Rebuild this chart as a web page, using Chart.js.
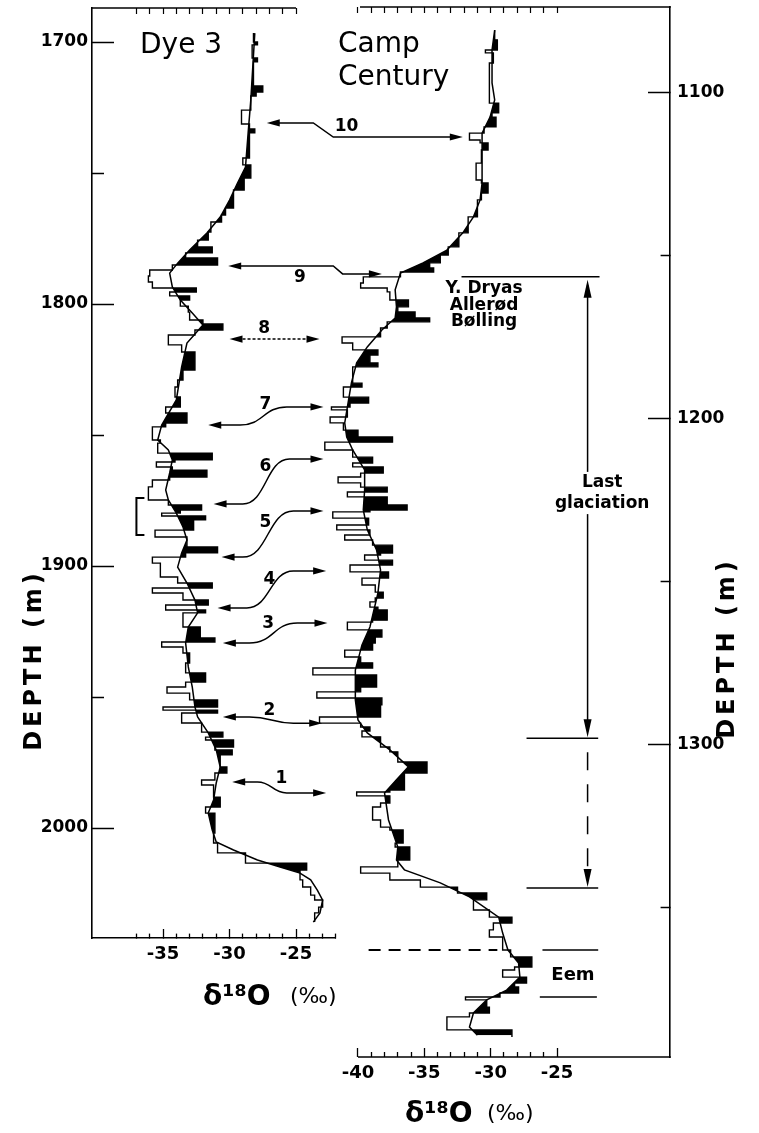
<!DOCTYPE html>
<html><head><meta charset="utf-8">
<script src="https://cdn.jsdelivr.net/npm/chart.js@4.4.1/dist/chart.umd.min.js"></script>
<style>
html,body{margin:0;padding:0;background:#fff;}
#wrap{position:relative;width:759px;height:1133px;overflow:hidden;background:#fff;}
canvas{position:absolute;left:0;top:0;}
</style></head><body>
<div id="wrap"><canvas id="dye" width="759" height="1133"></canvas><canvas id="cc" width="759" height="1133"></canvas></div>
<script>
// ---------- Dye 3 ----------
const dyeStepDepths = [1696.6,1700.0,1701.1,1706.1,1707.6,1716.8,1719.1,1720.6,1726.0,1731.3,
1733.2,1734.7,1744.3,1746.9,1751.9,1756.5,1760.3,1763.4,1766.0,1768.7,
1772.5,1775.6,1778.2,1780.5,1782.4,1785.1,1787.0,1789.3,1791.6,1793.9,
1795.4,1796.9,1798.5,1800.8,1803.1,1806.1,1807.6,1809.9,1811.8,1815.6,
1818.3,1825.2,1829.0,1831.7,1835.5,1839.3,1841.6,1845.4,1846.9,1851.9,
1853.1,1856.9,1859.5,1860.3,1862.2,1863.4,1866.0,1867.2,1869.8,1874.8,
1876.7,1878.6,1879.8,1880.9,1882.4,1886.3,1888.9,1892.7,1895.0,1896.6,
1898.9,1904.2,1906.5,1908.4,1910.3,1913.0,1914.9,1916.8,1917.9,1923.3,
1927.5,1929.0,1930.9,1933.2,1937.0,1940.8,1944.3,1946.2,1948.5,1951.1,
1953.8,1955.0,1956.1,1959.9,1963.4,1965.3,1966.4,1969.1,1970.2,1972.1,
1976.7,1979.0,1981.7,1983.6,1988.2,1992.0,1994.3,2001.9,2005.7,2009.5,
2013.4,2016.0,2019.8,2022.5,2025.6,2027.5,2030.2,2032.4,2035.9];
const dyeStepValues = [-28.2,-27.9,-28.3,-27.9,-28.2,-27.5,-28.0,-28.4,-29.1,-28.5,
-28.1,-28.5,-29.0,-28.4,-28.9,-29.7,-29.7,-30.3,-30.6,-31.4,
-31.6,-32.4,-31.3,-33.3,-30.9,-34.3,-36.0,-36.1,-35.8,-32.5,
-34.5,-33.0,-33.7,-33.1,-33.0,-32.0,-30.5,-32.6,-34.6,-33.6,
-32.6,-33.5,-33.9,-34.1,-33.7,-34.8,-33.2,-34.8,-35.8,-35.2,
-35.4,-31.3,-34.1,-35.5,-34.3,-31.7,-34.5,-35.8,-36.1,-34.6,
-32.1,-33.7,-35.1,-31.8,-32.7,-35.6,-33.2,-30.9,-33.3,-35.8,
-35.2,-33.9,-31.3,-35.8,-33.5,-31.6,-34.8,-31.8,-33.5,-32.2,
-31.1,-35.1,-33.5,-33.0,-33.3,-31.8,-33.3,-34.7,-33.0,-30.9,
-35.0,-30.9,-33.6,-32.1,-30.5,-31.8,-29.7,-31.1,-29.8,-30.7,
-30.2,-31.1,-32.1,-31.2,-30.7,-31.8,-31.1,-31.2,-30.9,-28.8,
-24.2,-24.7,-24.5,-23.9,-23.6,-23.0,-23.3,-23.6];
const dyeSmoothDepths = [1696.6,1722.1,1734.7,1747.7,1753.8,1760.3,1766.8,1772.9,1779.4,1784.4,
1788.2,1793.5,1798.5,1803.4,1808.0,1814.9,1824.0,1836.6,1846.2,1851.9,
1855.7,1859.5,1864.5,1871.0,1874.8,1879.8,1885.1,1890.1,1895.0,1900.4,
1906.5,1913.0,1917.9,1923.3,1929.4,1938.5,1946.2,1953.8,1957.6,1963.7,
1970.2,1976.7,1982.8,1989.3,1994.3,2000.8,2005.3,2008.4,2012.2,2014.9,
2017.2,2019.8,2023.7,2027.5,2032.4,2035.9];
const dyeSmoothValues = [-28.1,-28.4,-28.6,-28.8,-29.4,-30.0,-30.7,-31.7,-33.0,-33.9,
-34.5,-34.3,-33.7,-32.8,-32.0,-33.2,-33.6,-34.0,-35.1,-35.4,
-34.6,-34.3,-34.5,-34.8,-34.6,-34.0,-33.5,-33.2,-33.6,-33.9,
-33.2,-32.6,-32.4,-33.1,-33.3,-33.1,-32.8,-32.6,-32.4,-31.6,
-31.0,-30.7,-31.0,-31.2,-31.6,-31.3,-31.0,-29.7,-27.9,-26.2,
-24.7,-23.9,-23.4,-23.0,-23.2,-23.7];
const dyeXTickLabels = [-35, -30, -25];
const dyeDepthTickLabels = [1700, 1800, 1900, 2000];
const dyeDepthMinorTicks = [1750, 1850, 1950];

// ---------- Camp Century ----------
const ccStepDepths = [1080.7,1083.7,1086.8,1087.7,1090.8,1100.0,1103.1,1106.1,1107.4,1110.4,
1112.3,1114.4,1115.3,1117.5,1121.5,1126.7,1127.6,1130.7,1132.8,1138.0,
1142.9,1147.2,1149.7,1152.1,1153.7,1154.9,1156.4,1158.3,1159.8,1161.0,
1163.5,1165.6,1167.2,1169.0,1170.2,1172.1,1174.8,1176.7,1178.8,1180.4,
1182.8,1184.0,1189.0,1190.2,1193.3,1195.1,1196.3,1197.2,1199.4,1201.2,
1203.4,1205.5,1207.1,1209.5,1211.7,1213.5,1214.7,1216.6,1217.8,1219.6,
1220.9,1222.4,1223.9,1226.4,1227.9,1228.5,1230.4,1232.5,1234.0,1235.6,
1237.1,1238.7,1241.1,1241.7,1243.3,1244.8,1246.9,1248.8,1250.9,1253.1,
1254.9,1256.1,1257.7,1258.6,1261.7,1262.3,1264.7,1266.9,1268.7,1270.9,
1273.0,1274.8,1276.4,1278.5,1282.2,1283.7,1285.6,1287.7,1291.4,1293.3,
1294.5,1295.7,1297.5,1300.6,1302.1,1305.2,1308.6,1309.8,1313.8,1314.4,
1315.6,1317.8,1319.0,1323.0,1325.2,1326.1,1330.1,1331.3,1335.3,1337.4,
1339.3,1341.4,1343.6,1345.4,1347.5,1350.6,1352.8,1354.6,1356.7,1358.9,
1362.9,1365.0,1368.1,1369.0,1371.2,1373.0,1374.2,1376.1,1377.3,1378.2,
1380.4,1382.2,1383.4,1387.4,1389.6];
const ccStepValues = [-29.7,-29.5,-30.4,-29.8,-30.1,-30.1,-29.4,-29.9,-29.6,-30.5,
-31.6,-30.8,-30.2,-30.7,-31.1,-30.7,-30.2,-30.7,-31.0,-31.7,
-32.4,-33.2,-33.8,-34.6,-34.3,-36.8,-39.6,-39.8,-37.8,-37.6,
-36.2,-37.0,-35.7,-34.6,-37.8,-38.3,-41.2,-40.4,-38.5,-39.1,
-38.5,-40.4,-39.7,-41.1,-39.2,-40.6,-42.0,-40.8,-42.1,-41.1,
-40.0,-37.4,-42.5,-40.4,-38.9,-40.4,-38.1,-39.8,-41.5,-39.8,
-37.8,-40.8,-37.8,-36.3,-39.1,-41.9,-39.2,-41.6,-39.1,-41.0,
-38.9,-37.4,-38.3,-39.5,-37.4,-40.6,-37.7,-39.7,-38.7,-38.1,
-38.7,-39.1,-38.5,-37.8,-38.9,-40.8,-38.2,-38.7,-38.9,-41.0,
-39.8,-38.9,-43.4,-38.6,-39.8,-43.1,-38.2,-38.3,-42.9,-39.8,
-39.1,-39.7,-38.3,-37.6,-37.0,-34.8,-36.5,-36.5,-37.6,-40.1,
-37.6,-38.3,-38.9,-38.3,-37.6,-36.6,-37.2,-36.1,-37.0,-39.8,
-37.6,-35.3,-32.5,-30.3,-31.3,-30.1,-28.4,-29.8,-30.1,-29.1,
-28.5,-26.9,-28.2,-29.1,-27.3,-28.2,-27.9,-29.3,-31.9,-30.3,
-30.1,-31.6,-33.3,-28.4];
const ccSmoothDepths = [1080.7,1086.8,1096.9,1102.1,1107.4,1112.3,1127.6,1132.8,1138.0,1142.9,
1148.2,1152.1,1155.2,1160.4,1165.6,1169.0,1172.7,1177.9,1182.8,1189.0,
1195.1,1201.2,1205.5,1209.5,1215.6,1221.8,1227.9,1234.0,1240.2,1246.3,
1253.4,1263.8,1269.3,1277.0,1286.2,1292.3,1296.3,1301.5,1306.7,1310.7,
1314.7,1323.0,1331.3,1335.3,1338.3,1342.3,1346.6,1352.8,1357.7,1362.9,
1366.9,1371.2,1375.2,1378.2,1382.2,1386.5,1389.0];
const ccSmoothValues = [-29.7,-29.9,-29.9,-29.7,-30.05,-30.65,-30.65,-30.8,-31.3,-32.1,
-33.3,-35.1,-36.8,-37.2,-37.1,-37.2,-38.2,-39.3,-40.1,-40.5,
-40.75,-41.0,-40.85,-40.4,-39.5,-39.5,-39.6,-39.3,-38.6,-38.3,
-38.5,-39.1,-39.7,-40.2,-40.2,-40.0,-39.3,-37.6,-36.2,-37.1,
-38.0,-37.7,-37.0,-37.1,-36.5,-33.8,-31.6,-29.4,-29.1,-28.7,
-27.9,-27.8,-28.8,-30.3,-31.3,-31.6,-31.0];
const ccXTickLabels = [-40, -35, -30, -25];
const ccDepthTickLabels = [1100, 1200, 1300];
const ccDepthMinorTicks = [1150, 1250, 1350];

// ---------- correlation arrows (numbered tie points) ----------
const arrowLabels     = ['10','9','8','7','6','5','4','3','2','1'];
const arrowDyeDepths  = [1730.9,1785.5,1813.4,1846.2,1876.3,1896.6,1916.0,1929.4,1957.6,1982.4];
const arrowCcDepths   = [1113.5,1155.5,1175.5,1196.3,1212.3,1228.2,1246.6,1262.6,1293.3,1314.7];

// ---------- helpers ----------
function stepPoints(edges, vals){
  const p=[]; for(let i=0;i<vals.length;i++){p.push({x:vals[i],y:edges[i]});p.push({x:vals[i],y:edges[i+1]});} return p;
}
function curvePoints(d,v){return d.map((y,i)=>({x:v[i],y}));}
function smoothAt(d,v,t){
  if(t<=d[0])return v[0]; if(t>=d[d.length-1])return v[v.length-1];
  for(let i=1;i<d.length;i++){if(t<=d[i]){const f=(t-d[i-1])/(d[i]-d[i-1]);return v[i-1]+f*(v[i]-v[i-1]);}}
}
function envelopePoints(edges,vals,sd,sv){
  const p=[];
  for(let i=0;i<vals.length;i++){
    const a=edges[i],b=edges[i+1],v=vals[i];
    const ts=[a]; sd.forEach(k=>{if(k>a&&k<b)ts.push(k);}); ts.push(b);
    const all=[ts[0]];
    for(let j=1;j<ts.length;j++){
      const s0=smoothAt(sd,sv,ts[j-1]),s1=smoothAt(sd,sv,ts[j]);
      if((v-s0)*(v-s1)<0) all.push(ts[j-1]+(v-s0)/(s1-s0)*(ts[j]-ts[j-1]));
      all.push(ts[j]);
    }
    all.forEach(t=>p.push({x:Math.max(v,smoothAt(sd,sv,t)),y:t}));
  }
  return p;
}
function intRange(a,b){const r=[];for(let v=a;v<=b;v++)r.push(v);return r;}
function noPad(s){s.paddingTop=0;s.paddingBottom=0;s.paddingLeft=0;s.paddingRight=0;}

Chart.defaults.font.family = "'DejaVu Sans', sans-serif";
Chart.defaults.color = '#000';

function profileDatasets(sd,sv,ed,ev){
  return [
    {data:curvePoints(sd,sv),borderColor:'#000',borderWidth:1.5,pointRadius:0,tension:0,fill:false,clip:false},
    {data:envelopePoints(ed,ev,sd,sv),borderColor:'rgba(0,0,0,0)',borderWidth:0,backgroundColor:'#000',pointRadius:0,tension:0,fill:0,clip:false},
    {data:stepPoints(ed,ev),borderColor:'#000',borderWidth:1.4,pointRadius:0,tension:0,fill:false,clip:false}
  ];
}

function hLine(ctx,x1,x2,y,w,dash){ctx.save();ctx.strokeStyle='#000';ctx.lineWidth=w||1.5;ctx.setLineDash(dash||[]);ctx.beginPath();ctx.moveTo(x1,y);ctx.lineTo(x2,y);ctx.stroke();ctx.restore();}
function vLine(ctx,x,y1,y2,w,dash){ctx.save();ctx.strokeStyle='#000';ctx.lineWidth=w||1.5;ctx.setLineDash(dash||[]);ctx.beginPath();ctx.moveTo(x,y1);ctx.lineTo(x,y2);ctx.stroke();ctx.restore();}
function head(ctx,tx,ty,dx,dy,len,half){
  len=len||13;half=half||3.6;
  const bx=tx-dx*len,by=ty-dy*len;
  ctx.save();ctx.fillStyle='#000';ctx.beginPath();ctx.moveTo(tx,ty);
  ctx.lineTo(bx-dy*half,by+dx*half);ctx.lineTo(bx+dy*half,by-dx*half);ctx.closePath();ctx.fill();ctx.restore();
}
function text(ctx,s,x,y,font,align,base){ctx.save();ctx.fillStyle='#000';ctx.font=font;ctx.textAlign=align||'left';ctx.textBaseline=base||'alphabetic';ctx.fillText(s,x,y);ctx.restore();}
function vText(ctx,s,x,y,font,spacing){ctx.save();ctx.translate(x,y);ctx.rotate(-Math.PI/2);ctx.fillStyle='#000';ctx.font=font;try{ctx.letterSpacing=spacing||'0px';}catch(e){}ctx.textAlign='center';ctx.textBaseline='middle';ctx.fillText(s,0,0);ctx.restore();}
function deltaTitle(ctx,x,base,parenX){
  text(ctx,'δ\u00B9\u2078O',x,base,'bold 28px "DejaVu Sans"');
  text(ctx,'(‰)',parenX,base-2,'22px "DejaVu Sans"');
}

// ---------- Dye 3 chart ----------
const dyePlugin = {
  id:'dyeDecor',
  afterDraw(chart){
    const ctx=chart.ctx, xs=chart.scales.x, ys=chart.scales.y, a=chart.chartArea;
    hLine(ctx,a.left-0.8,xs.getPixelForValue(-25),a.top,1.6);
    text(ctx,'Dye 3',a.left+48,53,'28px "DejaVu Sans"');
    const bx=xs.getPixelForValue(-37.0), bx2=xs.getPixelForValue(-36.4);
    const by1=ys.getPixelForValue(1874.0), by2=ys.getPixelForValue(1888.2);
    ctx.save();ctx.strokeStyle='#000';ctx.lineWidth=2;ctx.beginPath();
    ctx.moveTo(bx2,by1);ctx.lineTo(bx,by1);ctx.lineTo(bx,by2);ctx.lineTo(bx2,by2);ctx.stroke();ctx.restore();
    vText(ctx,'DEPTH (m)',35,660,'bold 24px "DejaVu Sans"','4px');
    deltaTitle(ctx,203,1005,290);
  }
};
const dyeChart = new Chart(document.getElementById('dye'),{
  type:'line',
  data:{datasets:profileDatasets(dyeSmoothDepths,dyeSmoothValues,dyeStepDepths,dyeStepValues)},
  options:{
    responsive:false,animation:false,devicePixelRatio:1,indexAxis:'y',events:[],
    layout:{padding:{left:0,right:424,top:0,bottom:155}},
    plugins:{legend:{display:false},tooltip:{enabled:false}},
    scales:{
      x:{type:'linear',position:'bottom',min:-40.34,max:-22.07,
        afterBuildTicks:s=>{s.ticks=intRange(-37,-22).map(v=>({value:v}));},
        afterFit:s=>{s.height=40;noPad(s);},
        ticks:{autoSkip:false,maxRotation:0,padding:15,font:{size:18,weight:'bold'},
          callback:v=>dyeXTickLabels.includes(v)?String(v):''},
        grid:{drawOnChartArea:false,tickLength:-9,tickColor:'#000',tickWidth:1.3,
          tickBorderDash:c=>dyeXTickLabels.includes(c.tick&&c.tick.value)?[]:[5,100]},
        border:{color:'#000',width:1.6}},
      xTop:{type:'linear',position:'top',min:-40.34,max:-22.07,
        afterBuildTicks:s=>{s.ticks=intRange(-37,-25).map(v=>({value:v}));},
        afterFit:s=>{s.height=8;noPad(s);},
        ticks:{display:false},
        grid:{drawOnChartArea:false,tickLength:-6,tickColor:'#000',tickWidth:1.2},
        border:{display:false}},
      y:{type:'linear',position:'left',reverse:true,min:1687.02,max:2041.98,
        afterBuildTicks:s=>{s.ticks=dyeDepthTickLabels.concat(dyeDepthMinorTicks).sort((p,q)=>p-q).map(v=>({value:v}));},
        afterFit:s=>{s.width=92;noPad(s);},
        ticks:{autoSkip:false,padding:26,font:{size:17,weight:'bold'},
          callback:v=>dyeDepthTickLabels.includes(v)?String(v):''},
        grid:{drawOnChartArea:false,tickLength:-22,tickColor:'#000',tickWidth:1.5,
          tickBorderDash:c=>dyeDepthTickLabels.includes(c.tick&&c.tick.value)?[]:[0,10,100]},
        border:{color:'#000',width:1.6}}
    }
  },
  plugins:[dyePlugin]
});

// ---------- Camp Century chart ----------
const ccPlugin = {
  id:'ccDecor',
  afterDraw(chart){
    const ctx=chart.ctx, xs=chart.scales.x, ys=chart.scales.y, a=chart.chartArea;
    const dx=dyeChart.scales.x, dy=dyeChart.scales.y;
    hLine(ctx,xs.getPixelForValue(-40)+2,a.right+0.8,a.top,1.6);
    hLine(ctx,xs.getPixelForValue(-40),a.right+0.8,a.bottom,1.6);
    text(ctx,'Camp',a.left+38,52,'28px "DejaVu Sans"');
    text(ctx,'Century',a.left+38,85,'28px "DejaVu Sans"');
    const leftEnd=[-27.2,-30.1,-30.0,-31.6,-31.2,-30.6,-30.9,-30.5,-30.5,-29.8];
    const rightEnd=[-32.1,-38.2,-42.9,-42.6,-42.6,-42.6,-42.4,-42.3,-42.7,-42.4];
    const kneeL=[-23.7,-22.2,null,-29.2,-29.0,-29.0,-28.7,-28.5,-28.5,-27.9];
    const kneeR=[-22.2,-21.5,null,-25.7,-25.5,-25.2,-25.2,-24.9,-25.2,-25.7];
    const labX=[-21.2,-24.7,-27.4,-27.3,-27.3,-27.3,-27.0,-27.1,-27.0,-26.1];
    const labD=[1732.4,1790.1,1809.2,1838.5,1862.2,1883.6,1905.0,1922.1,1955.0,1981.3];
    ctx.save();ctx.strokeStyle='#000';ctx.lineWidth=1.5;
    arrowLabels.forEach((lab,i)=>{
      const x1=dx.getPixelForValue(leftEnd[i]), y1=dy.getPixelForValue(arrowDyeDepths[i]);
      const x2=xs.getPixelForValue(rightEnd[i]), y2=ys.getPixelForValue(arrowCcDepths[i]);
      ctx.save();
      if(kneeL[i]===null){
        ctx.setLineDash([3,2]);ctx.beginPath();ctx.moveTo(x1+8,y1);ctx.lineTo(x2-8,y2);ctx.stroke();ctx.setLineDash([]);
        head(ctx,x1,y1,-1,0);head(ctx,x2,y2,1,0);
      } else {
        const k1=dx.getPixelForValue(kneeL[i]),k2=dx.getPixelForValue(kneeR[i]);
        ctx.beginPath();ctx.moveTo(x1+6,y1);ctx.lineTo(k1,y1);
        if(i<2){ctx.lineTo(k2,y2);} else {const m=(k1+k2)/2;ctx.bezierCurveTo(m,y1,m,y2,k2,y2);}
        ctx.lineTo(x2-6,y2);ctx.stroke();
        head(ctx,x1,y1,-1,0);head(ctx,x2,y2,1,0);
      }
      ctx.restore();
      text(ctx,lab,dx.getPixelForValue(labX[i]),dy.getPixelForValue(labD[i]),'bold 17px "DejaVu Sans"','center','middle');
    });
    ctx.restore();
    const yYD=ys.getPixelForValue(1156.4), yLG=ys.getPixelForValue(1297.9), yLG2=ys.getPixelForValue(1343.9);
    const yE1=ys.getPixelForValue(1362.9), yE2=ys.getPixelForValue(1377.3);
    const xa=xs.getPixelForValue(-22.7);
    hLine(ctx,xs.getPixelForValue(-32.2),xs.getPixelForValue(-21.8),yYD,1.5);
    vLine(ctx,xa,yYD+8,yLG-8,1.5);
    head(ctx,xa,yYD+3,0,-1,18,4);head(ctx,xa,yLG-1,0,1,18,4);
    hLine(ctx,xs.getPixelForValue(-27.3),xs.getPixelForValue(-21.9),yLG,1.5);
    vLine(ctx,xa,yLG+14,yLG2-10,1.5,[18,14]);
    head(ctx,xa,yLG2-1,0,1,18,4);
    hLine(ctx,xs.getPixelForValue(-27.3),xs.getPixelForValue(-21.9),yLG2,1.5);
    hLine(ctx,xs.getPixelForValue(-39.2),xs.getPixelForValue(-29.5),yE1,2,[12,8]);
    hLine(ctx,xs.getPixelForValue(-26.1),xs.getPixelForValue(-21.9),yE1,1.5);
    hLine(ctx,xs.getPixelForValue(-26.3),xs.getPixelForValue(-22.0),yE2,1.5);
    text(ctx,'Eem',xs.getPixelForValue(-23.8),ys.getPixelForValue(1370.6),'bold 18px "DejaVu Sans"','center','middle');
    const tx=xs.getPixelForValue(-30.5);
    text(ctx,'Y. Dryas',tx,ys.getPixelForValue(1160.1),'bold 17px "DejaVu Sans"','center','middle');
    text(ctx,'Allerød',tx,ys.getPixelForValue(1165.3),'bold 17px "DejaVu Sans"','center','middle');
    text(ctx,'Bølling',tx,ys.getPixelForValue(1170.2),'bold 17px "DejaVu Sans"','center','middle');
    const gx=xs.getPixelForValue(-21.6), gy1=ys.getPixelForValue(1219.6), gy2=ys.getPixelForValue(1225.8);
    ctx.save();ctx.fillStyle='#fff';ctx.fillRect(gx-50,gy1-11,100,gy2-gy1+22);ctx.restore();
    text(ctx,'Last',gx,gy1,'bold 17px "DejaVu Sans"','center','middle');
    text(ctx,'glaciation',gx,gy2,'bold 17px "DejaVu Sans"','center','middle');
    vText(ctx,'DEPTH (m)',728,648,'bold 24px "DejaVu Sans"','4px');
    deltaTitle(ctx,405,1122,487);
  }
};
const ccChart = new Chart(document.getElementById('cc'),{
  type:'line',
  data:{datasets:profileDatasets(ccSmoothDepths,ccSmoothValues,ccStepDepths,ccStepValues)},
  options:{
    responsive:false,animation:false,devicePixelRatio:1,indexAxis:'y',events:[],
    layout:{padding:{left:300,right:19,top:0,bottom:36}},
    plugins:{legend:{display:false},tooltip:{enabled:false}},
    scales:{
      x:{type:'linear',position:'bottom',min:-44.37,max:-16.49,
        afterBuildTicks:s=>{s.ticks=intRange(-40,-25).map(v=>({value:v}));},
        afterFit:s=>{s.height=40;noPad(s);},
        ticks:{autoSkip:false,maxRotation:0,padding:15,font:{size:18,weight:'bold'},
          callback:v=>ccXTickLabels.includes(v)?String(v):''},
        grid:{drawOnChartArea:false,tickLength:-9,tickColor:'#000',tickWidth:1.3,
          tickBorderDash:c=>ccXTickLabels.includes(c.tick&&c.tick.value)?[]:[5,100]},
        border:{display:false}},
      xTop:{type:'linear',position:'top',min:-44.37,max:-16.49,
        afterBuildTicks:s=>{s.ticks=intRange(-40,-25).map(v=>({value:v}));},
        afterFit:s=>{s.height=7;noPad(s);},
        ticks:{display:false},
        grid:{drawOnChartArea:false,tickLength:-6,tickColor:'#000',tickWidth:1.2},
        border:{display:false}},
      y:{type:'linear',position:'right',reverse:true,min:1073.62,max:1395.71,
        afterBuildTicks:s=>{s.ticks=ccDepthTickLabels.concat(ccDepthMinorTicks).sort((p,q)=>p-q).map(v=>({value:v}));},
        afterFit:s=>{s.width=70;noPad(s);},
        ticks:{autoSkip:false,padding:29,font:{size:17,weight:'bold'},
          callback:v=>ccDepthTickLabels.includes(v)?String(v):''},
        grid:{drawOnChartArea:false,tickLength:-22,tickColor:'#000',tickWidth:1.5,
          tickBorderDash:c=>ccDepthTickLabels.includes(c.tick&&c.tick.value)?[]:[10,100]},
        border:{color:'#000',width:1.6}}
    }
  },
  plugins:[ccPlugin]
});
</script></body></html>
